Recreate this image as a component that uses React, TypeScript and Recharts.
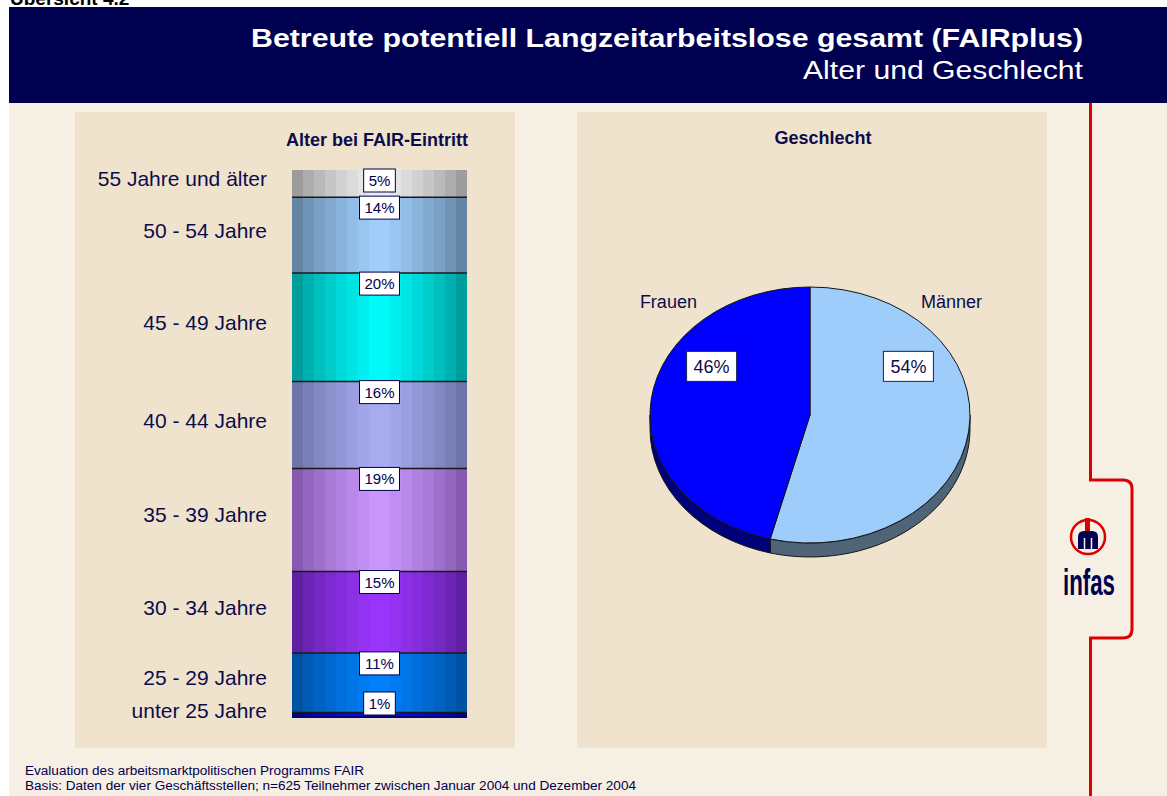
import React from "react";
import { Bar, BarChart, Cell, LabelList, Pie, PieChart, XAxis, YAxis } from "recharts";

const FONT = '"Liberation Sans", Arial, Helvetica, sans-serif';
const NAVY = "#000050";
const TEXT = "#0c0c4c";
const CREAM = "#f6efe3";
const PANEL = "#efe3cd";
const RED = "#dd0000";

// Alter bei FAIR-Eintritt (top to bottom)
const AGE_GROUPS = [
  "55 Jahre und älter",
  "50 - 54 Jahre",
  "45 - 49 Jahre",
  "40 - 44 Jahre",
  "35 - 39 Jahre",
  "30 - 34 Jahre",
  "25 - 29 Jahre",
  "unter 25 Jahre",
];
const AGE_KEYS = ["a55", "a50", "a45", "a40", "a35", "a30", "a25", "u25"];
const AGE_SHARES = [5, 14, 20, 16, 19, 15, 11, 1];
const AGE_EDGE = ["#8e8e8e", "#5a7894", "#008c8c", "#646a9c", "#7a50a4", "#561c94", "#004a94", "#00007a"];
const AGE_CENTER = ["#f2f2f2", "#a2d2ff", "#00ffff", "#acaef4", "#cc99ff", "#9c36ff", "#0082ff", "#0010ff"];

// Geschlecht
const SEX_LABELS = ["Männer", "Frauen"];
const SEX_SHARES = [54, 46];
const SEX_TOP = ["#9fcdfb", "#0000ff"];
const SEX_SIDE = ["#506478", "#00007a"];

const AGE_TOTAL = AGE_SHARES.reduce((a, b) => a + b, 0);
const ageRow: Record<string, number | string> = { name: "Alter" };
AGE_KEYS.forEach((k, i) => {
  ageRow[k] = AGE_SHARES[i];
});
const sexData = SEX_LABELS.map((name, i) => ({ name, value: SEX_SHARES[i] }));

const RAD = Math.PI / 180;
const TILT = 0.8;
const DEPTH = 14;

function hex(h: string) {
  const n = parseInt(h.slice(1), 16);
  return [(n >> 16) & 255, (n >> 8) & 255, n & 255];
}
function mix(a: string, b: string, t: number) {
  const ca = hex(a);
  const cb = hex(b);
  const c = ca.map((v, i) => Math.round(v + (cb[i] - v) * t));
  return `rgb(${c[0]},${c[1]},${c[2]})`;
}

function bandGradient(id: string, edge: string, center: string) {
  const n = 8;
  const stops: React.ReactNode[] = [];
  for (let i = 0; i < 2 * n; i++) {
    const d = Math.abs(i + 0.5 - n) / n;
    const c = mix(edge, center, Math.pow(1 - d, 0.7));
    stops.push(<stop key={`${i}a`} offset={i / (2 * n)} stopColor={c} />);
    stops.push(<stop key={`${i}b`} offset={(i + 1) / (2 * n)} stopColor={c} />);
  }
  return (
    <linearGradient key={id} id={id} x1="0" y1="0" x2="1" y2="0">
      {stops}
    </linearGradient>
  );
}

function box(p: any) {
  const vb = p.viewBox || {};
  const x = p.x ?? vb.x;
  const y = p.y ?? vb.y;
  const w = p.width ?? vb.width;
  const h = p.height ?? vb.height;
  return { x, top: Math.min(y, y + h), w, h: Math.abs(h) };
}

const segmentShape = (i: number) => (p: any) => {
  const top = Math.min(p.y, p.y + p.height);
  const h = Math.abs(p.height);
  const last = i === AGE_KEYS.length - 1;
  return (
    <g>
      <rect x={p.x} y={top} width={p.width} height={h} fill={`url(#ageGrad${i})`} />
      {i > 0 ? (
        <line x1={p.x} x2={p.x + p.width} y1={top} y2={top} stroke="#181818" strokeWidth={1.5} />
      ) : null}
      {last ? (
        <line x1={p.x} x2={p.x + p.width} y1={top + h - 1} y2={top + h - 1} stroke="#000080" strokeWidth={2} />
      ) : null}
    </g>
  );
};

const pctLabel = (i: number) => (p: any) => {
  const b = box(p);
  const text = `${AGE_SHARES[i]}%`;
  const tw = (String(AGE_SHARES[i]).length * 0.556 + 0.889) * 15;
  const bw = tw + 10;
  const bh = 23;
  const by = Math.min(b.top - 1, b.top + b.h - 26);
  const cx = b.x + b.w / 2;
  return (
    <g>
      <rect x={cx - bw / 2} y={by} width={bw} height={bh} fill="#ffffff" stroke={NAVY} strokeWidth={1} />
      <text x={cx} y={by + 17} textAnchor="middle" fontSize={15} fontFamily={FONT} fill={NAVY}>
        {text}
      </text>
    </g>
  );
};

const groupLabel = (i: number) => (p: any) => {
  const b = box(p);
  return (
    <text
      x={b.x - 25}
      y={b.top + b.h / 2 - 5 + 7.5}
      textAnchor="end"
      fontSize={21}
      fontFamily={FONT}
      fill={TEXT}
    >
      {AGE_GROUPS[i]}
    </text>
  );
};

function ellipseSector(p: any) {
  const { cx, cy, outerRadius: r } = p;
  const rx = r;
  const ry = r * TILT;
  const idx = Math.max(0, SEX_LABELS.indexOf(p.name ?? p.payload?.name));
  const pt = (a: number, dy = 0) => `${cx + rx * Math.cos(a * RAD)},${cy - ry * Math.sin(a * RAD) + dy}`;
  const hi = Math.max(p.startAngle, p.endAngle);
  const lo = Math.min(p.startAngle, p.endAngle);
  const large = hi - lo > 180 ? 1 : 0;
  const sides: string[] = [];
  for (let k = -2; k <= 1; k++) {
    const s = Math.max(lo, -180 + 360 * k);
    const e = Math.min(hi, 360 * k);
    if (e > s) {
      sides.push(
        `M${pt(e)} A${rx},${ry} 0 0 1 ${pt(s)} L${pt(s, DEPTH)} A${rx},${ry} 0 0 0 ${pt(e, DEPTH)} Z`
      );
    }
  }
  return (
    <g>
      {sides.map((d, j) => (
        <path key={j} d={d} fill={SEX_SIDE[idx]} stroke="#151515" strokeWidth={1} strokeLinejoin="round" />
      ))}
      <path
        d={`M${cx},${cy} L${pt(hi)} A${rx},${ry} 0 ${large} 1 ${pt(lo)} Z`}
        fill={SEX_TOP[idx]}
        stroke="#151515"
        strokeWidth={1}
        strokeLinejoin="round"
      />
    </g>
  );
}

function pieLabel(p: any) {
  const rx = p.outerRadius;
  const ry = p.outerRadius * TILT;
  const s = Math.cos(p.midAngle * RAD) >= 0 ? 1 : -1;
  const idx = Math.max(0, SEX_LABELS.indexOf(p.name ?? p.payload?.name));
  const text = `${SEX_SHARES[idx]}%`;
  const bx = p.cx + s * 0.615 * rx;
  const byc = p.cy - 0.38 * ry;
  const bw = 50;
  const bh = 30;
  return (
    <g>
      <rect x={bx - bw / 2} y={byc - bh / 2} width={bw} height={bh} fill="#ffffff" stroke="#202050" strokeWidth={1} />
      <text x={bx} y={byc + 6.5} textAnchor="middle" fontSize={18} fontFamily={FONT} fill={TEXT}>
        {text}
      </text>
      <text
        x={p.cx + s * 0.885 * rx}
        y={p.cy - 0.89 * ry + 6.5}
        textAnchor="middle"
        fontSize={18}
        fontFamily={FONT}
        fill={TEXT}
      >
        {SEX_LABELS[idx]}
      </text>
    </g>
  );
}

export default function App() {
  return (
    <div
      style={{
        position: "absolute",
        left: 0,
        top: 0,
        width: 1167,
        height: 796,
        overflow: "hidden",
        background: "#ffffff",
        fontFamily: FONT,
      }}
    >
      <div style={{ position: "absolute", left: 9, top: 7, right: 0, bottom: 0, background: CREAM }} />
      <div style={{ position: "absolute", left: 9, top: 7, right: 0, height: 96, background: NAVY }} />

      <div style={{ position: "absolute", left: 75, top: 112, width: 440, height: 636, background: PANEL }}>
        <BarChart
          width={440}
          height={636}
          data={[ageRow]}
          margin={{ top: 58, right: 48, bottom: 30, left: 217 }}
          barCategoryGap={0}
        >
          <defs>{AGE_KEYS.map((_, i) => bandGradient(`ageGrad${i}`, AGE_EDGE[i], AGE_CENTER[i]))}</defs>
          <XAxis dataKey="name" hide />
          <YAxis type="number" hide reversed domain={[0, AGE_TOTAL]} />
          {AGE_KEYS.map((k, i) => (
            <Bar key={k} dataKey={k} stackId="age" isAnimationActive={false} shape={segmentShape(i)}>
              <LabelList dataKey={k} content={groupLabel(i)} />
              <LabelList dataKey={k} content={pctLabel(i)} />
            </Bar>
          ))}
        </BarChart>
      </div>

      <div style={{ position: "absolute", left: 577, top: 112, width: 470, height: 636, background: PANEL }}>
        <PieChart width={470} height={636} margin={{ top: 0, right: 0, bottom: 0, left: 0 }}>
          <Pie
            data={sexData}
            dataKey="value"
            nameKey="name"
            cx={233}
            cy={303}
            outerRadius={160}
            startAngle={90}
            endAngle={-270}
            isAnimationActive={false}
            shape={ellipseSector}
            label={pieLabel}
            labelLine={false}
          >
            {sexData.map((d, i) => (
              <Cell key={d.name} fill={SEX_TOP[i]} />
            ))}
          </Pie>
        </PieChart>
      </div>

      <svg
        width={1167}
        height={796}
        style={{ position: "absolute", left: 0, top: 0, pointerEvents: "none" }}
      >
        <text x={10} y={5} fontSize={19} fontWeight="bold" fontFamily={FONT} fill="#000000">
          Übersicht 4.2
        </text>
        <text
          x={251}
          y={47}
          fontSize={25}
          fontWeight="bold"
          fontFamily={FONT}
          fill="#ffffff"
          textLength={832}
          lengthAdjust="spacingAndGlyphs"
        >
          Betreute potentiell Langzeitarbeitslose gesamt (FAIRplus)
        </text>
        <text
          x={803}
          y={79}
          fontSize={25}
          fontFamily={FONT}
          fill="#ffffff"
          textLength={280}
          lengthAdjust="spacingAndGlyphs"
        >
          Alter und Geschlecht
        </text>

        <text x={377} y={146} textAnchor="middle" fontSize={18} fontWeight="bold" fontFamily={FONT} fill={TEXT}>
          Alter bei FAIR-Eintritt
        </text>
        <text x={823} y={144} textAnchor="middle" fontSize={18} fontWeight="bold" fontFamily={FONT} fill={TEXT}>
          Geschlecht
        </text>

        <text x={25} y={775} fontSize={12} fontFamily={FONT} fill={NAVY} textLength={339} lengthAdjust="spacingAndGlyphs">
          Evaluation des arbeitsmarktpolitischen Programms FAIR
        </text>
        <text x={25} y={790} fontSize={12} fontFamily={FONT} fill={NAVY} textLength={611} lengthAdjust="spacingAndGlyphs">
          Basis: Daten der vier Geschäftsstellen; n=625 Teilnehmer zwischen Januar 2004 und Dezember  2004
        </text>

        <path
          d="M1090.5,103 V480 H1123 Q1132,480 1132,489 V629 Q1132,638 1123,638 H1090.5 V796"
          fill="none"
          stroke={RED}
          strokeWidth={3}
        />
        <circle cx={1088} cy={537} r={17} fill="none" stroke={RED} strokeWidth={2.5} />
        <rect x={1085} y={518} width={5} height={13} fill={RED} />
        <path d="M1078,549 V537 Q1078,531 1084,531 H1092 Q1098,531 1098,537 V549 Z" fill={NAVY} />
        <line x1={1084.5} x2={1084.5} y1={538} y2={549} stroke={CREAM} strokeWidth={1.5} />
        <line x1={1091.5} x2={1091.5} y1={538} y2={549} stroke={CREAM} strokeWidth={1.5} />
        <text
          x={1063}
          y={595}
          fontSize={36}
          fontWeight="bold"
          fontFamily={FONT}
          fill={NAVY}
          textLength={52}
          lengthAdjust="spacingAndGlyphs"
        >
          infas
        </text>
      </svg>
    </div>
  );
}
